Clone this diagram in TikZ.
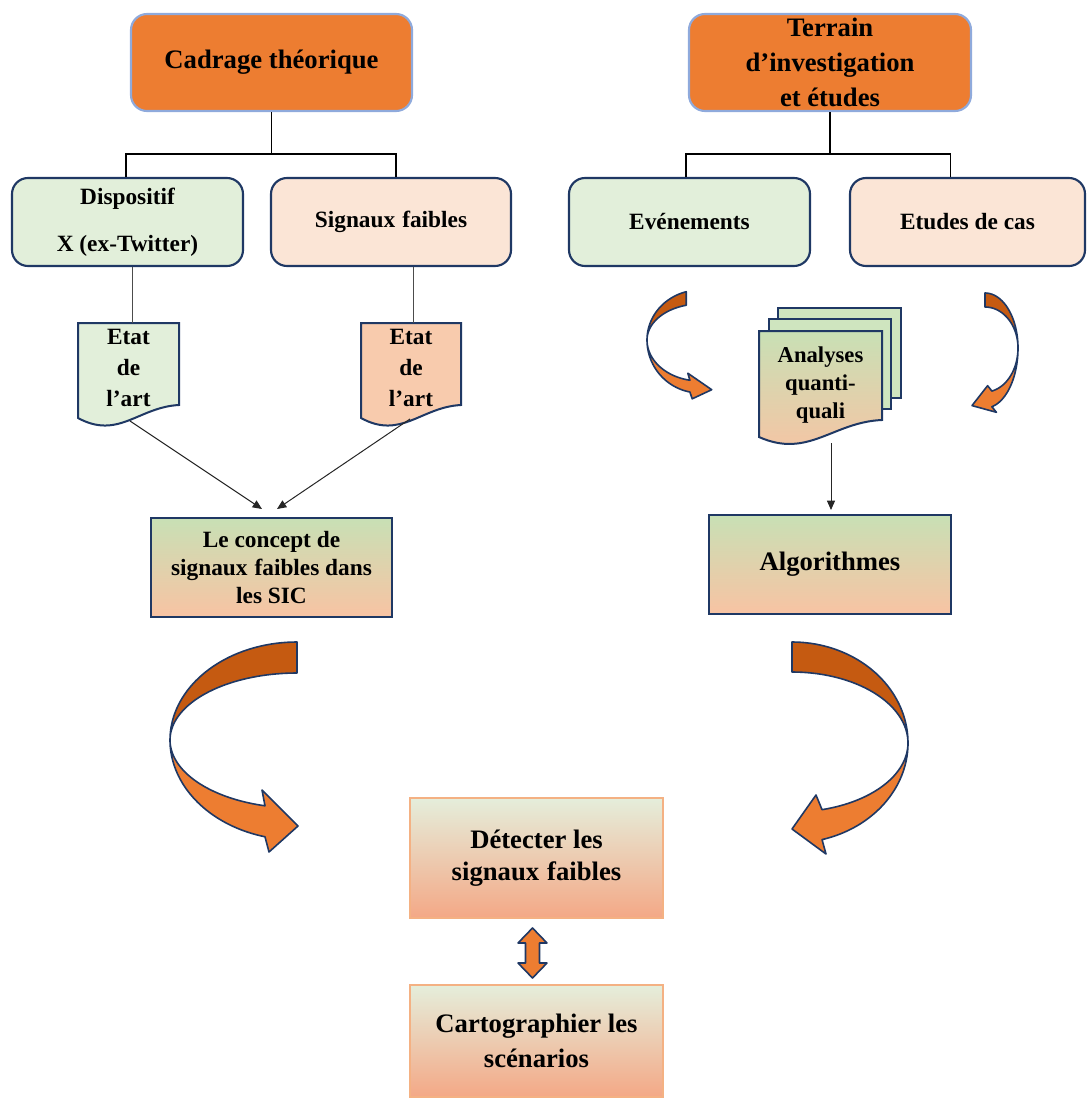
\documentclass[tikz,border=0pt]{standalone}
\usepackage{fontspec}
\setmainfont{Liberation Serif}
\usetikzlibrary{arrows.meta,calc}
\definecolor{hdrfill}{HTML}{ED7D31}
\definecolor{hdrline}{HTML}{8FAADC}
\definecolor{navy}{HTML}{1F3864}
\definecolor{gfill}{HTML}{E2EFDA}
\definecolor{pfill}{HTML}{FBE5D6}
\definecolor{dfill}{HTML}{F8CBAD}
\definecolor{gtop}{HTML}{C8E0B5}
\definecolor{pbot}{HTML}{F8C3A3}
\definecolor{gbk}{HTML}{CFE5BF}
\definecolor{ltop}{HTML}{E5EEDB}
\definecolor{sbot}{HTML}{F4A886}
\definecolor{sline}{HTML}{F4B183}
\definecolor{darkor}{HTML}{C55A11}
\def\PX{0.75pt}
\newcommand\docshape[6]{\path[#1] (#2,#4) -- (#3,#4) -- (#3,#6) .. controls ({#2+0.6*(#3-#2)},{#6+2}) and ({#2+0.4*(#3-#2)},{#5+22}) .. (#2,#5) -- cycle;}
\begin{document}
\begin{tikzpicture}[x=0.75pt,y=-0.75pt,
  tree/.style={draw=black, line width=0.9pt},
  thin/.style={draw=black!70, line width=0.6pt},
  conn/.style={draw=black!85, line width=0.75pt, -{Triangle[length=7pt,width=6pt]}},
  hdr/.style={draw=hdrline, line width=1.6pt, fill=hdrfill, rounded corners=12pt, inner sep=0pt, align=center, font=\bfseries\fontsize{20}{26}\selectfont},
  subg/.style={draw=navy, line width=1.6pt, fill=gfill, rounded corners=12pt, inner sep=0pt, align=center, font=\bfseries\fontsize{17.5}{35}\selectfont},
  subp/.style={subg, fill=pfill},
  grad/.style={draw=navy, line width=1.5pt, top color=gtop, bottom color=pbot, inner sep=0pt, align=center},
  fin/.style={draw=sline, line width=0.8pt, top color=ltop, bottom color=sbot, inner sep=0pt, align=center, font=\bfseries\fontsize{20}{24}\selectfont},
  doc/.style={draw=navy, line width=1.5pt},
  rib/.style={draw=navy, line width=1.2pt, line join=round},
  txt/.style={inner sep=0pt, align=center}
]
\useasboundingbox (0,0) rectangle (1086,1099);

% headers
\node[hdr, minimum width=281*\PX, minimum height=97*\PX] (cad) at (271.5,62.5) {Cadrage théorique};
\node[hdr, minimum width=282*\PX, minimum height=97*\PX] (ter) at (830,62.5) {Terrain\\d’investigation\\et études};

% second row
\node[subg, minimum width=231*\PX, minimum height=88*\PX] (disp) at (127.5,222) {Dispositif\\X (ex-Twitter)};
\node[subp, minimum width=240*\PX, minimum height=88*\PX] (sig) at (391,222) {Signaux\hspace{0.3em}faibles};
\node[subg, minimum width=241*\PX, minimum height=88*\PX] (eve) at (689.5,222) {Evénements};
\node[subp, minimum width=235*\PX, minimum height=88*\PX] (etu) at (967.5,222) {Etudes de cas};

% tree lines
\draw[tree] (cad.south) -- ++(0,42) coordinate (jl);
\draw[tree] ([xshift=-1.5*\PX]disp.north) |- (jl) -| ([xshift=5*\PX]sig.north);
\draw[tree] (ter.south) -- ++(0,42) coordinate (jr);
\draw[tree] ([xshift=-3.5*\PX]eve.north) |- (jr) -| ([xshift=-17*\PX]etu.north);

% Etat de l'art documents
\docshape{doc, fill=gfill}{78}{179}{323}{418}{405}
\docshape{doc, fill=dfill}{361}{461}{323}{418}{405}
\node[txt, font=\bfseries\fontsize{17.5}{23}\selectfont] (etL) at (128.5,368) {Etat\\de\\l’art};
\node[txt, font=\bfseries\fontsize{17.5}{23}\selectfont] (etR) at (411,368) {Etat\\de\\l’art};
\coordinate (dLt) at (132,323);
\coordinate (dRt) at (413,323);
\draw[thin] ([xshift=4.5*\PX]disp.south) -- (dLt);
\draw[thin] ([xshift=22*\PX]sig.south) -- (dRt);

% concept
\node[grad, minimum width=241*\PX, minimum height=99*\PX, font=\bfseries\fontsize{17.5}{21}\selectfont] (con) at (271.5,567.5) {Le concept de\\signaux\hspace{0.3em}faibles dans\\les SIC};
\coordinate (dLb) at (130,421);
\coordinate (dRb) at (410,419);
\draw[conn] (dLb) -- ([xshift=-9.5*\PX, yshift=8*\PX]con.north);
\draw[conn] (dRb) -- ([xshift=5.5*\PX, yshift=8*\PX]con.north);

% Analyses stack
\path[doc, fill=gbk] (778,308) rectangle (901,398);
\path[doc, fill=gbk] (769,319) rectangle (891,409);
\docshape{doc, top color=gtop, bottom color=pbot}{759}{882}{331}{437}{420}
\node[txt, font=\bfseries\fontsize{17}{21}\selectfont] (ana) at (820.5,385) {Analyses\\quanti-\\quali};

% Algorithmes
\node[grad, minimum width=242*\PX, minimum height=99*\PX, font=\bfseries\fontsize{20}{24}\selectfont] (alg) at (830,564.5) {Algorithmes};
\coordinate (anab) at (831,443);
\draw[conn] (anab) -- ([xshift=1*\PX, yshift=4*\PX]alg.north);

% small curved arrows
\path[rib, fill=darkor] plot[domain=-105:-180, samples=30, variable=\t] ({700+53*cos(\t)},{340+50*sin(\t)})
  -- plot[domain=-180:-105, samples=30, variable=\t] ({700+53*cos(\t)},{340+36*sin(\t)}) -- cycle;
\path[rib, fill=hdrfill] plot[domain=180:101, samples=30, variable=\t] ({700+53*cos(\t)},{340+53*sin(\t)})
  -- (692.2,398.8) -- (711.7,389.7) -- (687.8,373.2)
  -- plot[domain=101:180, samples=30, variable=\t] ({700+53*cos(\t)},{340+41*sin(\t)}) -- cycle;

\path[rib, fill=darkor] plot[domain=-90:0, samples=30, variable=\t] ({985+33*cos(\t)},{348+55*sin(\t)})
  -- plot[domain=0:-90, samples=30, variable=\t] ({985+33*cos(\t)},{348+41*sin(\t)}) -- cycle;
\path[rib, fill=hdrfill] plot[domain=0:78, samples=30, variable=\t] ({985+33*cos(\t)},{348+60*sin(\t)})
  -- (996.4,412.3) -- (972,405.6) -- (987.6,385.7)
  -- plot[domain=78:0, samples=30, variable=\t] ({985+33*cos(\t)},{348+44*sin(\t)}) -- cycle;

% big curved arrows
\path[rib, fill=darkor] plot[domain=-90:-180, samples=40, variable=\t] ({297+127*cos(\t)},{740+98*sin(\t)})
  -- plot[domain=-180:-90, samples=40, variable=\t] ({297+127*cos(\t)},{740+67*sin(\t)}) -- cycle;
\path[rib, fill=hdrfill] plot[domain=180:104.6, samples=40, variable=\t] ({297+127*cos(\t)},{740+100*sin(\t)})
  -- (269,852) -- (298,826) -- (262,790)
  -- plot[domain=104.6:180, samples=40, variable=\t] ({297+127*cos(\t)},{740+68*sin(\t)}) -- cycle;

\path[rib, fill=darkor] plot[domain=-90:0, samples=40, variable=\t] ({792+116*cos(\t)},{743+101*sin(\t)})
  -- plot[domain=0:-90, samples=40, variable=\t] ({792+116*cos(\t)},{743+71*sin(\t)}) -- cycle;
\path[rib, fill=hdrfill] plot[domain=0:75, samples=40, variable=\t] ({792+116*cos(\t)},{743+100*sin(\t)})
  -- (826,854) -- (792,829) -- (816,795)
  -- plot[domain=75:0, samples=40, variable=\t] ({792+116*cos(\t)},{743+69*sin(\t)}) -- cycle;

% final boxes
\node[fin, minimum width=253*\PX, minimum height=120*\PX] (det) at (536.5,858) {Détecter les\\signaux\hspace{0.3em}faibles};
\node[fin, minimum width=253*\PX, minimum height=112*\PX, font=\bfseries\fontsize{20}{26}\selectfont] (car) at (536.5,1041) {Cartographier les\\scénarios};
\path[rib, fill=hdrfill] (532.5,928) -- (547,943) -- (539.5,943) -- (539.5,963) -- (547,963) -- (532.5,978)
  -- (518,963) -- (525.5,963) -- (525.5,943) -- (518,943) -- cycle;
\end{tikzpicture}
\end{document}
